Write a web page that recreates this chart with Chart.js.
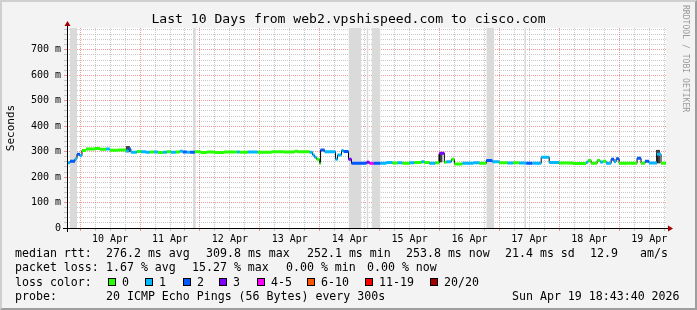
<!DOCTYPE html>
<html>
<head>
<meta charset="utf-8">
<script src="https://cdn.jsdelivr.net/npm/chart.js@4.4.1/dist/chart.umd.min.js"></script>
<style>
  body { margin: 0; background: #f3f3f3; }
  #wrap { position: relative; width: 697px; height: 310px; overflow: hidden;
          font-family: 'DejaVu Sans Mono', monospace; color: #000; }
  #c { position: absolute; left: 0; top: 0; }
  #title { position: absolute; left: 0; top: 11px; width: 697px; text-align: center;
           font-size: 13.1px; line-height: 16px; white-space: pre; }
  #side { position: absolute; left: 681px; top: 5px; writing-mode: vertical-rl;
          font-size: 8.1px; line-height: 10px; color: #9a9a9a; white-space: pre; }
  .t { position: absolute; white-space: pre; font-size: 11.6px; line-height: 14px; }
  .box { position: absolute; width: 6px; height: 6px; border: 1px solid #000; }
  #frame { position: absolute; left: 0; top: 0; width: 697px; height: 310px; box-sizing: border-box;
           border-top: 2px solid #cfcfcf; border-left: 2px solid #cfcfcf;
           border-right: 2px solid #9e9e9e; border-bottom: 2px solid #9e9e9e; pointer-events: none; }
</style>
</head>
<body>
<div id="wrap">
  <canvas id="c" width="697" height="310"></canvas>
  <div id="title">Last 10 Days from web2.vpshispeed.com to cisco.com</div>
  <div id="side">RRDTOOL / TOBI OETIKER</div>
  <div id="legend"></div>
  <div id="frame"></div>
</div>
<script>
// time axis: hours since Apr 9 18:43:40 (graph start), 10 days wide
const tEnd = 240;
const firstMidnight = 5.2722;
const dayLabels = ['10 Apr', '11 Apr', '12 Apr', '13 Apr', '14 Apr', '15 Apr', '16 Apr', '17 Apr', '18 Apr', '19 Apr'];
const yMax = 786;

// median rtt (ms) steps: start hour, value, packet loss class
const segT = [0, 1.2, 3.2, 4.0, 5.2, 6.0, 7.6, 11.2, 13.2, 15.6,
  17.2, 20.4, 23.6, 24.8, 25.6, 28.0, 29.6, 31.6, 33.2, 34.8,
  36.4, 38.4, 40.0, 41.6, 43.6, 45.2, 46.4, 48.0, 49.2, 51.2,
  53.6, 56.0, 59.2, 62.8, 68.0, 69.2, 72.4, 76.4, 82.0, 86.8,
  91.2, 92.4, 97.2, 98.4, 99.2, 100.0, 101.2, 101.6, 103.2, 107.6,
  108.4, 110.0, 110.8, 112.8, 114.0, 120.0, 121.2, 122.8, 125.6, 128.0,
  130.4, 132.4, 134.4, 137.2, 139.2, 142.0, 143.2, 145.2, 147.6, 149.2,
  151.2, 152.0, 154.0, 155.2, 158.4, 162.8, 165.2, 168.0, 170.4, 173.2,
  176.4, 178.8, 181.2, 184.0, 186.4, 190.0, 193.2, 197.2, 202.8, 208.0,
  208.8, 210.0, 212.4, 213.6, 214.8, 216.0, 218.0, 219.2, 220.0, 221.2,
  228.4, 230.0, 231.6, 233.2, 236.4, 238.0];
const rtt = [256, 262, 272, 290, 284, 305, 310, 312, 309, 310,
  306, 307, 303, 310, 298, 301, 300, 298, 299, 299,
  297, 298, 300, 298, 299, 302, 299, 298, 298, 300,
  297, 299, 297, 299, 299, 298, 299, 298, 300, 299,
  302, 300, 298, 287, 278, 270, 254, 307, 300, 270,
  287, 305, 301, 270, 254, 258, 254, 254, 254, 257,
  255, 256, 254, 256, 257, 260, 257, 254, 256, 294,
  258, 260, 270, 252, 254, 256, 254, 265, 260, 256,
  255, 256, 255, 254, 254, 278, 257, 255, 253, 258,
  265, 254, 265, 259, 262, 254, 270, 260, 272, 254,
  274, 254, 262, 255, 290, 254];
const loss = [1, 2, 1, 2, 1, 0, 0, 0, 0, 1,
  0, 0, 1, 2, 1, 0, 1, 1, 0, 1,
  0, 1, 0, 1, 0, 1, 2, 1, 2, 0,
  0, 0, 0, 0, 1, 0, 1, 0, 0, 0,
  0, 0, 1, 1, 1, 0, 0, 2, 1, 1,
  1, 1, 2, 3, 2, 3, 4, 2, 1, 1,
  0, 1, 0, 1, 0, 1, 0, 1, 0, 3,
  0, 1, 0, 0, 1, 1, 0, 2, 1, 0,
  1, 0, 1, 2, 1, 1, 1, 0, 0, 1,
  0, 0, 0, 1, 0, 1, 2, 1, 2, 0,
  2, 0, 2, 1, 1, 0];

// smoke spikes (ping spread) and unknown-data periods
const smokeT = [24.4, 149.6, 236.8];
const smokeLo = [298, 258, 254];
const smokeHi = [322, 291, 307];
const bandStart = [1.2, 50.4, 112.8, 120.0, 122.0, 168.0, 183.2];
const bandEnd = [4.0, 51.6, 118.0, 120.8, 125.6, 171.2, 184.0];

const lossLabels = ['0', '1', '2', '3', '4-5', '6-10', '11-19', '20/20'];
const lossColors = ['#26ff00', '#00b8ff', '#0059ff', '#7e00ff', '#ff00ff', '#ff5500', '#ff0000', '#a10000'];

const minorGrid = 'rgba(165,165,165,0.6)';
const majorGrid = 'rgba(225,70,70,0.55)';

const xGrid = [];
for (let h = firstMidnight; h < tEnd; h += 6) xGrid.push(h);
const yGrid = [];
for (let v = 0; v < yMax; v += 20) yGrid.push(v);

const datasets = [];
bandStart.forEach((s, i) => datasets.push({
  data: [{x: s, y: yMax}, {x: bandEnd[i], y: yMax}],
  borderWidth: 0, pointRadius: 0, fill: 'origin', backgroundColor: '#dadada', order: 10
}));
smokeT.forEach((t, i) => datasets.push({
  data: [{x: t, y: smokeLo[i]}, {x: t, y: smokeHi[i]}],
  borderColor: '#404040', borderWidth: 4, pointRadius: 0, order: 6
}));
const medianPts = segT.map((t, i) => ({x: t, y: rtt[i]}));
medianPts.push({x: tEnd, y: rtt[rtt.length - 1]});
datasets.push({data: medianPts, stepped: true, borderColor: '#000', borderWidth: 1, pointRadius: 0, order: 5});
lossColors.forEach((col, k) => {
  const pts = [];
  segT.forEach((t, i) => {
    if (loss[i] !== k) return;
    const e = i + 1 < segT.length ? segT[i + 1] : tEnd;
    pts.push({x: t, y: rtt[i]}, {x: e, y: rtt[i]}, {x: e, y: null});
  });
  if (pts.length) datasets.push({data: pts, borderColor: col, borderWidth: 3, pointRadius: 0, spanGaps: false, order: 1});
});

const axisDeco = {
  id: 'axisDeco',
  beforeDraw(chart) {
    const {ctx, chartArea: a} = chart;
    ctx.save();
    ctx.fillStyle = '#fff';
    ctx.fillRect(a.left, a.top, a.right - a.left, a.bottom - a.top);
    ctx.restore();
  },
  afterDraw(chart) {
    const {ctx, chartArea: a} = chart;
    ctx.save();
    ctx.strokeStyle = '#000';
    ctx.lineWidth = 1;
    ctx.beginPath();
    ctx.moveTo(a.left - 4, a.bottom + 0.5);
    ctx.lineTo(a.right + 3, a.bottom + 0.5);
    ctx.moveTo(a.left + 0.5, a.bottom + 4);
    ctx.lineTo(a.left + 0.5, a.top - 3);
    ctx.stroke();
    ctx.fillStyle = '#a00000';
    ctx.beginPath();
    ctx.moveTo(a.left + 0.5, a.top - 7);
    ctx.lineTo(a.left + 3.5, a.top - 2);
    ctx.lineTo(a.left - 2.5, a.top - 2);
    ctx.closePath();
    ctx.fill();
    ctx.beginPath();
    ctx.moveTo(a.right + 7, a.bottom + 0.5);
    ctx.lineTo(a.right + 2, a.bottom - 2.5);
    ctx.lineTo(a.right + 2, a.bottom + 3.5);
    ctx.closePath();
    ctx.fill();
    ctx.restore();
  }
};

Chart.defaults.font.family = "'DejaVu Sans Mono', monospace";
Chart.defaults.color = '#000';

new Chart(document.getElementById('c'), {
  type: 'line',
  data: {datasets},
  options: {
    responsive: false,
    devicePixelRatio: 1,
    animation: false,
    events: [],
    layout: {padding: {left: 0, right: 31, top: 28, bottom: 62}},
    plugins: {legend: {display: false}, tooltip: {enabled: false}},
    scales: {
      x: {
        type: 'linear', min: 0, max: tEnd,
        afterBuildTicks: s => { s.ticks = xGrid.map(v => ({value: v})); },
        afterFit: s => { s.height = 20; },
        ticks: {
          autoSkip: false, maxRotation: 0, padding: 2, font: {size: 10},
          callback: (v, i) => (i % 4 === 2 ? dayLabels[(i - 2) / 4] : '')
        },
        grid: {
          color: c => (c.index % 4 === 0 ? majorGrid : minorGrid),
          tickColor: c => (c.index % 4 === 0 ? majorGrid : minorGrid),
          tickLength: 3
        },
        border: {display: false, dash: [1, 1]}
      },
      y: {
        type: 'linear', min: 0, max: yMax,
        afterBuildTicks: s => { s.ticks = yGrid.map(v => ({value: v})); },
        afterFit: s => { s.width = 67; },
        ticks: {
          autoSkip: false, padding: 3, font: {size: 10},
          callback: v => (v % 100 === 0 ? (v === 0 ? '0' : v + ' m') : '')
        },
        grid: {
          color: c => (c.tick && c.tick.value % 100 === 0 ? majorGrid : minorGrid),
          tickColor: c => (c.tick && c.tick.value % 100 === 0 ? majorGrid : minorGrid),
          tickLength: 3
        },
        border: {display: false, dash: [1, 1]},
        title: {display: true, text: 'Seconds', font: {size: 11}, padding: {top: 4.4, bottom: 0}}
      }
    }
  },
  plugins: [axisDeco]
});

// legend / statistics lines under the graph
const legendRows = [
  [246, [['median rtt:', 15], ['276.2 ms avg', 106], ['309.8 ms max', 206], ['252.1 ms min', 307],
         ['253.8 ms now', 406], ['21.4 ms sd', 505], ['12.9', 590], ['am/s', 640]]],
  [260, [['packet loss:', 15], ['1.67 % avg', 106], ['15.27 % max', 192], ['0.00 % min', 286], ['0.00 % now', 367]]],
  [274.5, [['loss color:', 15]]],
  [289, [['probe:', 15], ['20 ICMP Echo Pings (56 Bytes) every 300s', 106], ['Sun Apr 19 18:43:40 2026', 512]]]
];
const boxX = [108, 145, 183, 219, 257, 307, 365, 430];
const legend = document.getElementById('legend');
legendRows.forEach(([top, items]) => items.forEach(([txt, x]) => {
  const d = document.createElement('div');
  d.className = 't';
  d.style.left = x + 'px';
  d.style.top = top + 'px';
  d.textContent = txt;
  legend.appendChild(d);
}));
lossLabels.forEach((lab, i) => {
  const b = document.createElement('div');
  b.className = 'box';
  b.style.left = boxX[i] + 'px';
  b.style.top = '278px';
  b.style.background = lossColors[i];
  legend.appendChild(b);
  const d = document.createElement('div');
  d.className = 't';
  d.style.left = (boxX[i] + 14) + 'px';
  d.style.top = '274.5px';
  d.textContent = lab;
  legend.appendChild(d);
});
</script>
</body>
</html>
